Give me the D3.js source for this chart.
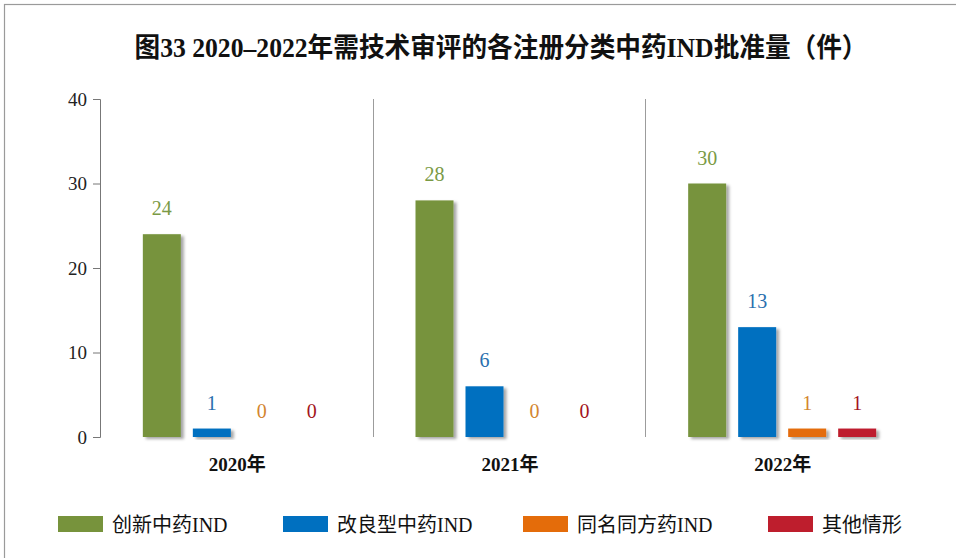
<!DOCTYPE html>
<html>
<head>
<meta charset="utf-8">
<script src="https://cdn.jsdelivr.net/npm/d3@7"></script>
<style>
  body { margin: 0; background: #fff; }
  svg { display: block; }
</style>
</head>
<body>
<div id="chart"></div>
<script>
// 年度（カテゴリ）
var years = ['2020年', '2021年', '2022年'];
// 系列名
var seriesNames = ['创新中药IND', '改良型中药IND', '同名同方药IND', '其他情形'];
// 系列ごとの値（年度順）
var innovative = [24, 28, 30];
var improved = [1, 6, 13];
var sameName = [0, 0, 1];
var others = [0, 0, 1];
// 目盛り
var yTicks = [0, 10, 20, 30, 40];

var seriesValues = [innovative, improved, sameName, others];
var barColors = ['#77933c', '#0070c0', '#e46c0a', '#be1e2d'];
var labelColors = ['#7a9a45', '#2a6fae', '#d3852f', '#a3141c'];

var serif = '"Liberation Serif", "Times New Roman", "DejaVu Serif", "Noto Sans CJK SC", serif';

var width = 956;
var height = 558;
var margin = { top: 99, right: 38, bottom: 121, left: 100 };
var w = width - margin.left - margin.right;
var h = height - margin.top - margin.bottom;
var groupWidth = 188;

var svg = d3.select('#chart').append('svg')
  .attr('width', width).attr('height', height);

// 影のフィルタ
var defs = svg.append('defs');
var f = defs.append('filter').attr('id', 'shadow')
  .attr('x', '-20%').attr('y', '-20%').attr('width', '150%').attr('height', '150%');
f.append('feDropShadow').attr('dx', 3).attr('dy', 2).attr('stdDeviation', 1.5)
  .attr('flood-color', '#000').attr('flood-opacity', 0.35);

// 外枠
svg.append('rect')
  .attr('x', 4.5).attr('y', 4.5).attr('width', width + 10).attr('height', height + 10)
  .attr('fill', 'none').attr('stroke', '#9a9a9a').attr('stroke-width', 1.2);

// タイトル
svg.append('text')
  .attr('x', 501).attr('y', 57)
  .attr('text-anchor', 'middle')
  .attr('textLength', 733).attr('lengthAdjust', 'spacingAndGlyphs')
  .style('font-family', serif)
  .style('font-weight', 'bold').style('font-size', '27px').style('fill', '#111')
  .text('图33 2020–2022年需技术审评的各注册分类中药IND批准量（件）');

var g = svg.append('g').attr('transform', 'translate(' + margin.left + ',' + margin.top + ')');

var x0 = d3.scaleBand().domain(years).range([0, w]);
var x1 = d3.scaleBand().domain(d3.range(seriesNames.length))
  .range([0, groupWidth]).paddingInner(0.24);
var y = d3.scaleLinear().domain([0, 40]).range([h, 0]);

// 区切り線
g.selectAll('.sep').data(years.slice(1)).enter()
  .append('line')
  .attr('x1', function(d) { return Math.round(x0(d)) + 0.5; })
  .attr('x2', function(d) { return Math.round(x0(d)) + 0.5; })
  .attr('y1', 0).attr('y2', h)
  .attr('stroke', '#9c9c9c').attr('stroke-width', 1);

// 右側の枠線（影つき）
g.append('line')
  .attr('x1', w).attr('x2', w).attr('y1', 0).attr('y2', h)
  .attr('stroke', '#b0b0b0').attr('stroke-width', 2)
  .attr('filter', 'url(#shadow)');

// y軸
var yAxis = d3.axisLeft(y).tickValues(yTicks).tickSize(7).tickPadding(6);
var ya = g.append('g').call(yAxis);
ya.select('.domain').attr('stroke', '#777');
ya.selectAll('.tick line').attr('stroke', '#777');
ya.selectAll('.tick text')
  .style('font-family', serif)
  .style('font-size', '19px').style('fill', '#222');

// 棒
var groups = g.selectAll('.year').data(years).enter()
  .append('g')
  .attr('transform', function(d) { return 'translate(' + (x0(d) + (x0.bandwidth() - groupWidth) / 2 + 0.5) + ',0)'; });

groups.each(function(yr, yi) {
  var sel = d3.select(this);
  var rows = seriesValues.map(function(vals, si) { return { si: si, v: vals[yi] }; });
  sel.selectAll('rect').data(rows).enter()
    .append('rect')
    .attr('x', function(d) { return x1(d.si); })
    .attr('y', function(d) { return y(d.v); })
    .attr('width', x1.bandwidth())
    .attr('height', function(d) { return h - y(d.v); })
    .attr('fill', function(d) { return barColors[d.si]; })
    .attr('filter', function(d) { return d.v > 0 ? 'url(#shadow)' : null; });
  sel.selectAll('text').data(rows).enter()
    .append('text')
    .attr('x', function(d) { return x1(d.si) + x1.bandwidth() / 2; })
    .attr('y', function(d) { return y(d.v) - 19; })
    .attr('text-anchor', 'middle')
    .style('font-family', serif)
    .style('font-size', '20px')
    .style('fill', function(d) { return labelColors[d.si]; })
    .text(function(d) { return d.v; });
});

// x軸のベースライン（影つき）
g.append('line')
  .attr('x1', -8).attr('x2', w).attr('y1', h).attr('y2', h)
  .attr('stroke', '#9a9a9a').attr('stroke-width', 1.5)
  .attr('filter', 'url(#shadow)');

// 年度ラベル
g.selectAll('.xlabel').data(years).enter()
  .append('text')
  .attr('x', function(d) { return x0(d) + x0.bandwidth() / 2 + 1; })
  .attr('y', h + 34)
  .attr('text-anchor', 'middle')
  .style('font-family', serif)
  .style('font-weight', 'bold').style('font-size', '19px').style('fill', '#111')
  .text(function(d) { return d; });

// 凡例
var legendX = [58, 283, 523, 768];
var legend = svg.selectAll('.legend').data(seriesNames).enter()
  .append('g')
  .attr('transform', function(d, i) { return 'translate(' + legendX[i] + ',516)'; });
legend.append('rect')
  .attr('width', 45).attr('height', 16)
  .attr('fill', function(d, i) { return barColors[i]; });
legend.append('text')
  .attr('x', 54).attr('y', 16)
  .style('font-family', serif)
  .style('font-size', '20px').style('fill', '#111')
  .text(function(d) { return d; });
</script>
</body>
</html>
